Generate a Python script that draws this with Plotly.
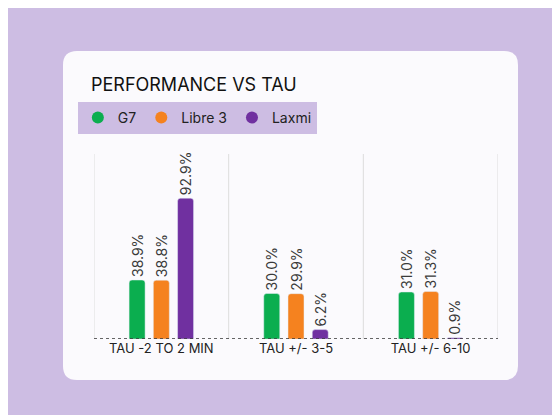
import plotly.graph_objects as go

categories = ["TAU -2 TO 2 MIN", "TAU +/- 3-5", "TAU +/- 6-10"]
series = ["G7", "Libre 3", "Laxmi"]
g7 = [38.9, 30.0, 31.0]
libre3 = [38.8, 29.9, 31.3]
laxmi = [92.9, 6.2, 0.9]
colors = ["#0bae4f", "#f5821f", "#7030a0"]

xpos = [0.5, 1.5, 2.5]
fig = go.Figure()
for name, vals, c in zip(series, [g7, libre3, laxmi], colors):
    fig.add_bar(x=xpos, y=vals, name=name, marker=dict(color=c, cornerradius=3),
                text=[f"{v:.1f}%" for v in vals], textposition="outside", textangle=-90,
                constraintext="none",
                textfont=dict(size=14, color="#3a3a3a", family="Inter"),
                cliponaxis=False, showlegend=False)
    fig.add_scatter(x=[None], y=[None], mode="markers", name=name,
                    marker=dict(symbol="circle", size=12, color=c))

# card bounds in paper coords (plot area: x 86..490 px, y 146..331 px)
W, H = 404.0, 185.0
cx0, cx1 = (55 - 86) / W, (510 - 86) / W
cy0, cy1 = (331 - 372) / H, (331 - 43) / H
rx, ry = 14 / W, 14 / H
card = ("M {a} {t} L {b} {t} Q {x1} {t} {x1} {t2} L {x1} {b2} Q {x1} {y0} {b} {y0} "
        "L {a} {y0} Q {x0} {y0} {x0} {b2} L {x0} {t2} Q {x0} {t} {a} {t} Z").format(
    a=cx0 + rx, b=cx1 - rx, t=cy1, t2=cy1 - ry, b2=cy0 + ry, x0=cx0, x1=cx1, y0=cy0)
shapes = [dict(type="path", xref="paper", yref="paper", path=card,
               fillcolor="#fbfafd", line=dict(width=0), layer="below")]
for gx in [0, 1, 2, 3]:
    shapes.append(dict(type="line", xref="x", yref="paper", x0=gx, x1=gx, y0=0, y1=1,
                       line=dict(color="#dddddd", width=1), layer="below"))
shapes.append(dict(type="line", xref="paper", yref="y", x0=0, x1=1, y0=0, y1=0,
                   line=dict(color="#333", width=1.5, dash="dot")))

fig.update_layout(
    width=560, height=415,
    margin=dict(l=86, r=70, t=146, b=84),
    paper_bgcolor="#cdbde3", plot_bgcolor="rgba(0,0,0,0)",
    barmode="group", bargap=0.46, bargroupgap=0.34,
    font=dict(family="Inter", color="#222"),
    title=dict(text="PERFORMANCE VS TAU", x=83/560, y=1-77/415, xanchor="left", yanchor="middle",
               pad=dict(l=0, r=0, t=0, b=0), font=dict(size=18, color="#111")),
    legend=dict(orientation="h", x=-0.04, xanchor="left", y=1+(146-110)/185, yanchor="middle",
                font=dict(size=14, color="#222"), traceorder="normal"),
    xaxis=dict(range=[0, 3], tickvals=xpos, ticktext=categories, showgrid=False, zeroline=False,
               showline=False, tickfont=dict(size=13, color="#222"), ticks="", ticklen=0),
    yaxis=dict(range=[0, 122], visible=False),
    shapes=shapes,
)
fig.write_html("out.html")
